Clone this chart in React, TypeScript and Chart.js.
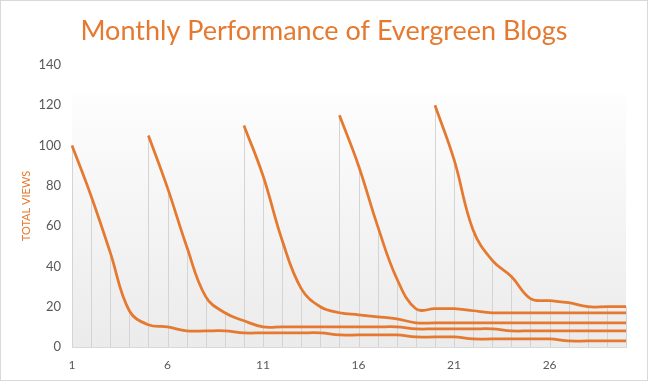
import { useEffect, useRef } from "react";
import { Chart, registerables } from "chart.js";

Chart.register(...registerables);

const days = ["1","2","3","4","5","6","7","8","9","10","11","12","13","14","15","16","17","18","19","20","21","22","23","24","25","26","27","28","29","30"];
const yTicks = [0, 20, 40, 60, 80, 100, 120, 140];

const blogA = [100, 75, 47, 18, 11, 10, 8, 8, 8, 7, 7, 7, 7, 7, 6, 6, 6, 6, 5, 5, 5, 4, 4, 4, 4, 4, 3, 3, 3, 3];
const blogB = [null, null, null, null, 105, 79, 50, 25, 17, 13, 10, 10, 10, 10, 10, 10, 10, 10, 9, 9, 9, 9, 9, 8, 8, 8, 8, 8, 8, 8];
const blogC = [null, null, null, null, null, null, null, null, null, 110, 85, 53, 29, 20, 17, 16, 15, 14, 12, 12, 12, 12, 12, 12, 12, 12, 12, 12, 12, 12];
const blogD = [null, null, null, null, null, null, null, null, null, null, null, null, null, null, 115, 90, 60, 34, 19, 19, 19, 18, 17, 17, 17, 17, 17, 17, 17, 17];
const blogE = [null, null, null, null, null, null, null, null, null, null, null, null, null, null, null, null, null, null, null, 120, 93, 58, 43, 35, 24, 23, 22, 20, 20, 20];

const series = [blogA, blogB, blogC, blogD, blogE];
const titleText = "Monthly Performance of Evergreen Blogs";
const yTitle = "TOTAL VIEWS";
const fillTopValue = 125;

const ORANGE = "#E5792F";
const FONT = "Lato, 'Open Sans', sans-serif";

const backdrop = {
  id: "backdrop",
  beforeDraw(chart: any) {
    const { ctx, chartArea, scales } = chart;
    const y = scales.y;
    const top = y.getPixelForValue(fillTopValue);
    const g = ctx.createLinearGradient(0, top, 0, chartArea.bottom);
    g.addColorStop(0, "#fdfdfd");
    g.addColorStop(1, "#ebebeb");
    ctx.save();
    ctx.fillStyle = g;
    ctx.fillRect(chartArea.left, top, chartArea.right - chartArea.left, chartArea.bottom - top);
    ctx.restore();
  },
  beforeDatasetsDraw(chart: any) {
    const { ctx, chartArea, scales } = chart;
    const x = scales.x;
    const y = scales.y;
    ctx.save();
    ctx.strokeStyle = "#d4d4d4";
    ctx.lineWidth = 1;
    days.forEach((_, i) => {
      const vals = chart.data.datasets
        .map((d: any) => d.data[i])
        .filter((v: any) => v !== null && v !== undefined);
      if (!vals.length) return;
      const max = Math.max(...vals);
      const px = Math.round(x.getPixelForValue(i)) + 0.5;
      ctx.beginPath();
      ctx.moveTo(px, y.getPixelForValue(max));
      ctx.lineTo(px, chartArea.bottom);
      ctx.stroke();
    });
    ctx.restore();
  },
  afterDraw(chart: any) {
    const { ctx } = chart;
    ctx.save();
    ctx.fillStyle = ORANGE;
    ctx.font = "normal 27px " + FONT;
    ctx.textAlign = "center";
    ctx.textBaseline = "middle";
    ctx.fillText(titleText, chart.width / 2, 30);
    ctx.restore();
  },
};

export default function App() {
  const ref = useRef<HTMLCanvasElement | null>(null);

  useEffect(() => {
    if (!ref.current) return;
    const chart = new Chart(ref.current, {
      type: "line",
      data: {
        labels: days,
        datasets: series.map((s, k) => ({
          label: "Blog " + (k + 1),
          data: s,
          borderColor: ORANGE,
          backgroundColor: ORANGE,
          borderWidth: 2.75,
          pointRadius: 0,
          tension: 0.4,
          fill: false,
          spanGaps: false,
        })),
      },
      options: {
        animation: false,
        responsive: true,
        maintainAspectRatio: false,
        layout: { padding: { left: 0, right: 21, top: 64, bottom: 0 } },
        plugins: {
          legend: { display: false },
          tooltip: { enabled: false },
          title: { display: false },
        },
        scales: {
          x: {
            type: "category",
            offset: false,
            grid: { display: false, drawTicks: false },
            border: { display: true, color: "#d9d9d9", width: 1 },
            ticks: {
              autoSkip: false,
              maxRotation: 0,
              padding: 11,
              color: "#595959",
              font: { family: FONT, size: 12 },
              callback: (_v: any, i: number) => (i % 5 === 0 ? days[i] : ""),
            },
            afterFit: (s: any) => {
              s.height = 33;
            },
          },
          y: {
            min: 0,
            max: 140,
            afterBuildTicks: (s: any) => {
              s.ticks = yTicks.map((v) => ({ value: v }));
            },
            grid: { display: false, drawTicks: false },
            border: { display: false },
            ticks: {
              padding: 11,
              color: "#595959",
              font: { family: FONT, size: 13 },
            },
            title: {
              display: true,
              text: yTitle,
              color: ORANGE,
              font: { family: FONT, size: 11 },
              padding: { top: 19, bottom: 0 },
            },
            afterFit: (s: any) => {
              s.width = 71;
            },
          },
        },
      },
      plugins: [backdrop],
    });
    return () => chart.destroy();
  }, []);

  return (
    <div
      style={{
        position: "absolute",
        left: 0,
        top: 0,
        width: 648,
        height: 381,
        boxSizing: "border-box",
        border: "1px solid #d9d9d9",
        background: "#ffffff",
      }}
    >
      <div style={{ position: "relative", width: 646, height: 379 }}>
        <canvas ref={ref} />
      </div>
    </div>
  );
}
